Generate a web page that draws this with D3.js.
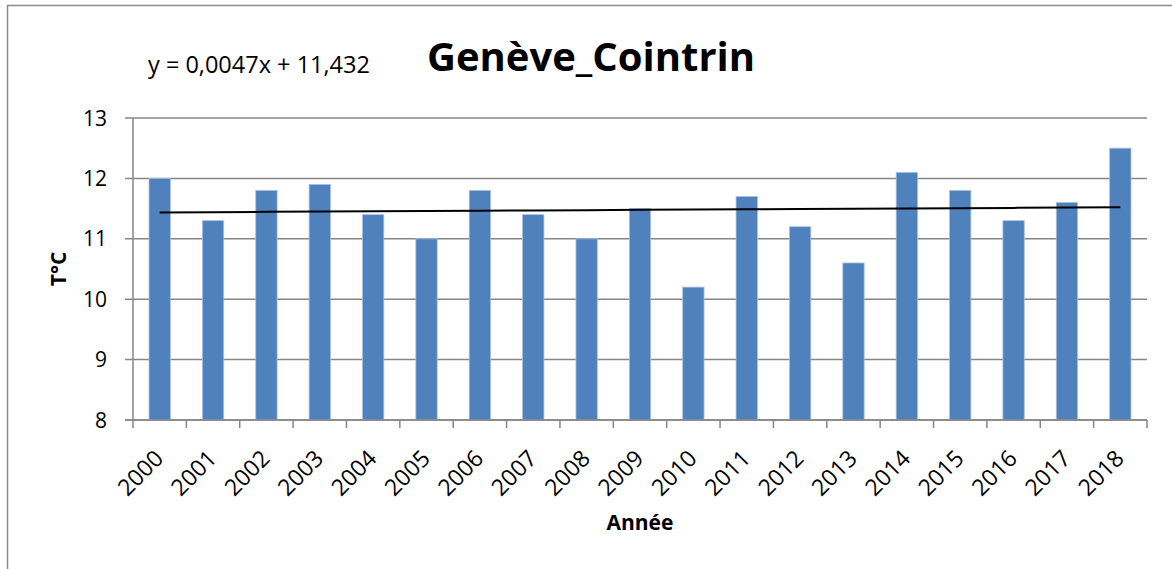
<!DOCTYPE html>
<html>
<head>
<meta charset="utf-8">
<script src="https://cdn.jsdelivr.net/npm/d3@7"></script>
<style>
  body { margin: 0; background: #fff; }
  svg { display: block; font-family: "Open Sans", sans-serif; }
</style>
</head>
<body>
<div id="chart"></div>
<script>
// DATA
const years = ["2000", "2001", "2002", "2003", "2004", "2005", "2006", "2007", "2008", "2009",
  "2010", "2011", "2012", "2013", "2014", "2015", "2016", "2017", "2018"];
const temps = [12.0, 11.3, 11.8, 11.9, 11.4, 11.0, 11.8, 11.4, 11.0, 11.5,
  10.2, 11.7, 11.2, 10.6, 12.1, 11.8, 11.3, 11.6, 12.5];
const yTicks = [8, 9, 10, 11, 12, 13];
// linear trend y = a*x + b (x = 1..19)
const trendSlope = 0.0047;
const trendIntercept = 11.432;
const trendLabel = "y = 0,0047x + 11,432";

const width = 1172, height = 569;
const margin = { top: 118, right: 25, bottom: 149, left: 133 };

const svg = d3.select("#chart").append("svg")
  .attr("width", width)
  .attr("height", height);

// outer chart border
svg.append("rect")
  .attr("x", 7.5).attr("y", 5.5)
  .attr("width", width).attr("height", height)
  .attr("fill", "none")
  .attr("stroke", "#8c8c8c")
  .attr("stroke-width", 1.5);

// SCALES
const x = d3.scaleBand()
  .domain(years)
  .range([margin.left, width - margin.right])
  .paddingInner(0.6)
  .paddingOuter(0.3);

const y = d3.scaleLinear()
  .domain([8, 13])
  .range([height - margin.bottom, margin.top]);

const grey = "#868686";

// gridlines
svg.append("g")
  .selectAll("line")
  .data(yTicks)
  .join("line")
  .attr("x1", margin.left - 8)
  .attr("x2", width - margin.right)
  .attr("y1", d => y(d))
  .attr("y2", d => y(d))
  .attr("stroke", grey)
  .attr("stroke-width", 1.5);

// y axis line
svg.append("line")
  .attr("x1", margin.left).attr("x2", margin.left)
  .attr("y1", y(13)).attr("y2", y(8))
  .attr("stroke", grey).attr("stroke-width", 1.5);

// y tick labels
svg.append("g")
  .selectAll("text")
  .data(yTicks)
  .join("text")
  .attr("x", margin.left - 26)
  .attr("y", d => y(d))
  .attr("dy", "0.36em")
  .attr("text-anchor", "end")
  .attr("font-size", 21)
  .attr("fill", "#000")
  .text(d => d);

// x tick marks at category boundaries
const step = x.step();
const x0 = x.range()[0];
svg.append("g")
  .selectAll("line")
  .data(d3.range(years.length + 1))
  .join("line")
  .attr("x1", i => x0 + i * step)
  .attr("x2", i => x0 + i * step)
  .attr("y1", y(8))
  .attr("y2", y(8) + 8)
  .attr("stroke", grey)
  .attr("stroke-width", 1.5);

// bars
svg.append("g")
  .selectAll("rect")
  .data(years.map((yr, i) => ({ yr, v: temps[i] })))
  .join("rect")
  .attr("x", d => x(d.yr))
  .attr("y", d => y(d.v))
  .attr("width", x.bandwidth())
  .attr("height", d => y(8) - y(d.v))
  .attr("fill", "#4F81BD")
  .attr("stroke", "#a9c0df")
  .attr("stroke-width", 0.8);

// x axis baseline (over bars)
svg.append("line")
  .attr("x1", margin.left - 8).attr("x2", width - margin.right)
  .attr("y1", y(8)).attr("y2", y(8))
  .attr("stroke", grey).attr("stroke-width", 1.5);

// x tick labels, rotated
svg.append("g")
  .selectAll("text")
  .data(years)
  .join("text")
  .attr("text-anchor", "end")
  .attr("font-size", 23)
  .attr("fill", "#000")
  .attr("transform", d => `translate(${x(d) + x.bandwidth() / 2 + 5},${y(8) + 40}) rotate(-45)`)
  .text(d => d);

// trendline
const trend = years.map((yr, i) => ({ yr, v: trendSlope * (i + 1) + trendIntercept }));
svg.append("path")
  .datum(trend)
  .attr("fill", "none")
  .attr("stroke", "#000")
  .attr("stroke-width", 2)
  .attr("d", d3.line().x(d => x(d.yr) + x.bandwidth() / 2).y(d => y(d.v)));

// title
svg.append("text")
  .attr("x", 591).attr("y", 71)
  .attr("text-anchor", "middle")
  .attr("font-size", 40)
  .attr("font-weight", "bold")
  .text("Genève_Cointrin");

// trend equation
svg.append("text")
  .attr("x", 148).attr("y", 73)
  .attr("font-size", 23.5)
  .text(trendLabel);

// axis titles
svg.append("text")
  .attr("x", 640).attr("y", 530)
  .attr("text-anchor", "middle")
  .attr("font-size", 21)
  .attr("font-weight", "bold")
  .text("Année");

svg.append("text")
  .attr("transform", `translate(66,${(y(8) + y(13)) / 2}) rotate(-90)`)
  .attr("text-anchor", "middle")
  .attr("font-size", 21)
  .attr("font-weight", "bold")
  .text("T°C");
</script>
</body>
</html>
